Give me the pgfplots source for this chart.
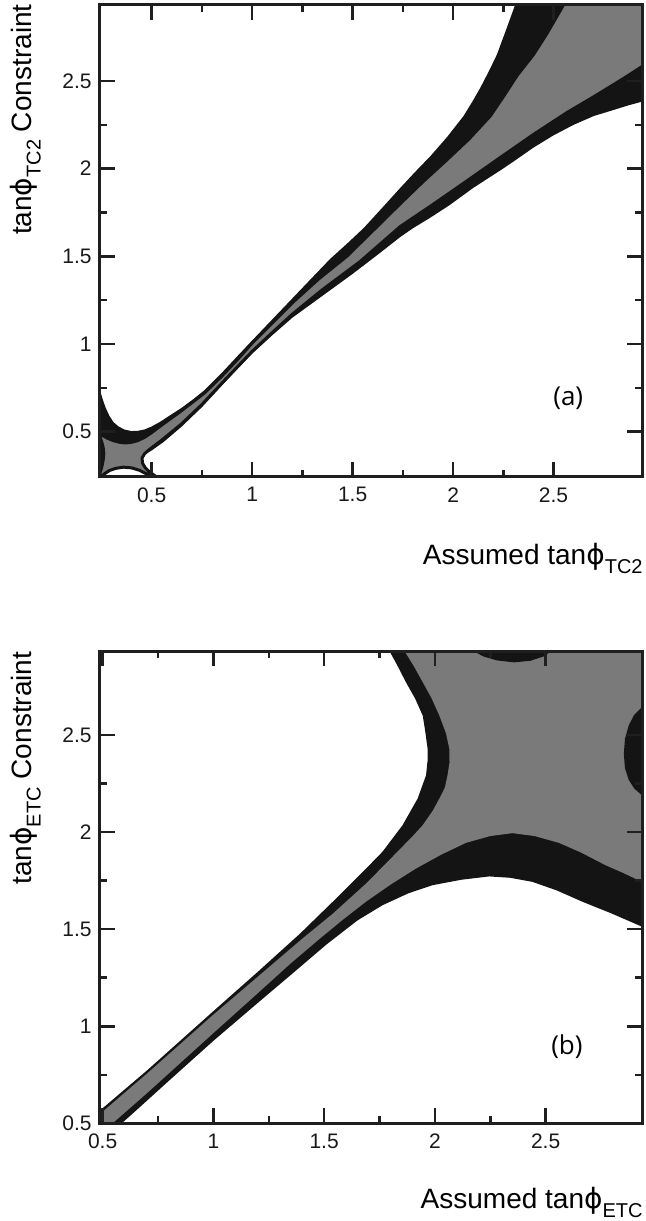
\documentclass[border=0pt]{standalone}
\usepackage{fontspec}
\setmainfont{Liberation Sans}
\newfontfamily\panelfont{Open Sans}
\newfontfamily\phifont{DejaVu Sans}
\usepackage{pgfplots}
\pgfplotsset{compat=1.18}

\definecolor{cband}{RGB}{20,20,20}
\definecolor{cgray}{RGB}{122,122,122}
\definecolor{cframe}{RGB}{32,30,31}

\pgfplotsset{
  tanphi/.style={
    scale only axis, width=271pt, height=236pt,
    anchor=south west,
    xtick={0.5,1,1.5,2,2.5}, ytick={0.5,1,1.5,2,2.5},
    minor tick num=1,
    tick align=inside,
    major tick length=7.5pt, minor tick length=3.5pt,
    axis line style={line width=1.5pt, cframe},
    major tick style={line width=1.25pt, cframe},
    minor tick style={line width=1.25pt, cframe},
    tick label style={font=\fontsize{10.5}{12}\selectfont, text=black!90},
    /pgf/number format/assume math mode=true,
    xticklabel style={inner sep=0pt, yshift=-5pt},
    yticklabel style={inner sep=0pt, xshift=-4pt},
    axis on top,
  }
}

\newcommand{\sub}[1]{\raisebox{-4.5pt}{\fontsize{10}{10}\selectfont #1}}
\newcommand{\phis}{{\phifont ϕ}}

\begin{document}
\begin{tikzpicture}
\path[use as bounding box] (0,0) rectangle (322.5pt,610.5pt);

% ---------- (a) ----------
\begin{axis}[tanphi, at={(50pt,372pt)},
  xmin=0.243, xmax=2.94, ymin=0.242, ymax=2.933]
% outer (black) region
\addplot[fill=cband, draw=none] coordinates {
  (0.235,0.77) (0.255,0.69) (0.27,0.64) (0.29,0.59) (0.31,0.555) (0.335,0.53)
  (0.366,0.512) (0.40,0.504) (0.43,0.505) (0.465,0.513) (0.50,0.53) (0.54,0.555)
  (0.58,0.585) (0.65,0.637) (0.71,0.688) (0.764,0.738) (0.85,0.837) (0.93,0.935)
  (1.0,1.02) (1.1,1.14) (1.2,1.26) (1.3,1.38) (1.388,1.485) (1.47,1.57)
  (1.554,1.66) (1.65,1.78) (1.737,1.89) (1.81,1.98) (1.886,2.07) (1.97,2.18)
  (2.052,2.30) (2.10,2.39) (2.135,2.46) (2.18,2.56) (2.218,2.65) (2.26,2.78)
  (2.309,2.935) (2.33,3.0) (3.0,3.0) (3.0,2.40) (2.94,2.382) (2.87,2.36)
  (2.8,2.335) (2.7,2.30) (2.6,2.25) (2.5,2.19) (2.4,2.12) (2.3,2.04)
  (2.235,1.99) (2.1,1.89) (1.98,1.79) (1.886,1.72) (1.8,1.66) (1.737,1.61)
  (1.62,1.505) (1.5,1.40) (1.35,1.275) (1.2,1.15) (1.1,1.05) (1.0,0.945)
  (0.875,0.795) (0.75,0.64) (0.65,0.53) (0.56,0.442) (0.50,0.393) (0.45,0.36)
  (0.37,0.37) (0.30,0.33) (0.235,0.28)
} -- cycle;
% inner (grey) region
\addplot[fill=cgray, draw=cband, line width=1.5pt, line join=round] coordinates {
  (0.235,0.497) (0.255,0.479) (0.28,0.463) (0.31,0.449) (0.34,0.44) (0.37,0.436)
  (0.40,0.44) (0.43,0.449) (0.465,0.468) (0.50,0.495) (0.531,0.522) (0.58,0.563)
  (0.631,0.605) (0.70,0.665) (0.764,0.722) (0.85,0.818) (0.93,0.915) (1.0,1.005)
  (1.1,1.12) (1.2,1.235) (1.33,1.37) (1.471,1.50) (1.6,1.645) (1.737,1.80)
  (1.85,1.925) (1.969,2.05) (2.08,2.17) (2.185,2.30) (2.25,2.41) (2.318,2.53)
  (2.40,2.65) (2.467,2.77) (2.55,2.935) (2.585,3.0) (3.0,3.0) (3.0,2.62)
  (2.94,2.582) (2.87,2.53) (2.8,2.48) (2.7,2.41) (2.567,2.32) (2.4,2.195)
  (2.218,2.05) (2.05,1.915) (1.886,1.785) (1.737,1.67) (1.537,1.47) (1.35,1.31)
  (1.2,1.17) (1.1,1.065) (1.0,0.958) (0.875,0.808) (0.75,0.655) (0.647,0.543)
  (0.548,0.45) (0.49,0.40) (0.465,0.375) (0.452,0.35) (0.455,0.32) (0.468,0.295)
  (0.49,0.27) (0.515,0.25) (0.55,0.225) (0.47,0.262) (0.44,0.28) (0.40,0.294)
  (0.36,0.298) (0.32,0.291) (0.29,0.279) (0.265,0.26) (0.245,0.24) (0.235,0.225)
  (0.243,0.265) (0.252,0.30) (0.259,0.34) (0.262,0.375) (0.259,0.41) (0.252,0.44)
  (0.243,0.47)
} -- cycle;
\node[font=\panelfont\fontsize{13}{14}\selectfont] at (axis cs:2.573,0.69) {(a)};
\end{axis}

% ---------- (b) ----------
\begin{axis}[tanphi, at={(50pt,48.85pt)},
  xmin=0.488, xmax=2.935, ymin=0.5, ymax=2.932]
\addplot[fill=cband, draw=none] coordinates {
  (0.45,0.53) (0.49,0.568) (0.6,0.675) (0.7,0.772) (0.85,0.925) (1.0,1.078)
  (1.2,1.28) (1.389,1.475) (1.479,1.575) (1.56,1.665) (1.629,1.744) (1.70,1.825)
  (1.764,1.90) (1.854,2.036) (1.922,2.173) (1.96,2.293) (1.967,2.37) (1.967,2.43)
  (1.955,2.53) (1.945,2.601) (1.91,2.69) (1.869,2.773) (1.83,2.86) (1.794,2.935)
  (1.76,3.0) (3.0,3.0) (3.0,1.48) (2.935,1.513) (2.8,1.58) (2.665,1.642)
  (2.55,1.70) (2.44,1.744) (2.34,1.765) (2.245,1.772) (2.12,1.755) (1.99,1.727)
  (1.88,1.685) (1.764,1.624) (1.65,1.545) (1.509,1.42) (1.35,1.265) (1.2,1.12)
  (1.0,0.925) (0.8,0.72) (0.65,0.565) (0.586,0.5) (0.56,0.47) (0.45,0.47)
} -- cycle;
\addplot[fill=cgray, draw=none] coordinates {
  (0.45,0.51) (0.49,0.55) (0.6,0.658) (0.7,0.756) (0.85,0.908) (1.0,1.06)
  (1.2,1.255) (1.4,1.45) (1.539,1.58) (1.689,1.735) (1.78,1.84) (1.84,1.91)
  (1.90,1.98) (1.945,2.036) (1.99,2.11) (2.02,2.173) (2.045,2.23) (2.057,2.293)
  (2.066,2.36) (2.065,2.43) (2.05,2.51) (2.02,2.601) (1.985,2.69) (1.945,2.773)
  (1.905,2.855) (1.862,2.935) (1.83,3.0) (3.0,3.0) (3.0,1.71) (2.935,1.744)
  (2.85,1.79) (2.77,1.83) (2.66,1.895) (2.56,1.945) (2.45,1.98) (2.35,1.995)
  (2.25,1.98) (2.14,1.945) (2.03,1.885) (1.915,1.813) (1.80,1.73) (1.689,1.642)
  (1.58,1.545) (1.479,1.45) (1.35,1.325) (1.2,1.17) (1.0,0.965) (0.85,0.81)
  (0.7,0.655) (0.6,0.555) (0.545,0.5) (0.52,0.47) (0.45,0.47)
} -- cycle;
% small black islands at the top and right edges
\addplot[fill=cband, draw=none] coordinates {
  (2.15,3.0) (2.17,2.935) (2.22,2.905) (2.28,2.885) (2.357,2.875) (2.43,2.883)
  (2.49,2.905) (2.53,2.935) (2.55,3.0)
} -- cycle;
\addplot[fill=cband, draw=none] coordinates {
  (3.0,2.68) (2.935,2.645) (2.90,2.605) (2.875,2.55) (2.858,2.48) (2.853,2.404)
  (2.858,2.33) (2.875,2.27) (2.90,2.225) (2.935,2.19) (3.0,2.15)
} -- cycle;
\node[font=\panelfont\fontsize{13}{14}\selectfont] at (axis cs:2.596,0.897) {(b)};
\end{axis}

% axis titles
\node[anchor=base east, inner sep=0pt, font=\fontsize{14}{16}\selectfont]
  at (321.5pt,328pt) {Assumed tan\phis\sub{TC2}};
\node[rotate=90, anchor=north east, inner sep=0pt, font=\fontsize{14}{16}\selectfont]
  at (5pt,608.5pt) {tan\phis\sub{TC2} Constraint};
\node[anchor=base east, inner sep=0pt, font=\fontsize{14}{16}\selectfont]
  at (321.5pt,6pt) {Assumed tan\phis\sub{ETC}};
\node[rotate=90, anchor=north east, inner sep=0pt, font=\fontsize{14}{16}\selectfont]
  at (5pt,284.85pt) {tan\phis\sub{ETC} Constraint};
\end{tikzpicture}
\end{document}
